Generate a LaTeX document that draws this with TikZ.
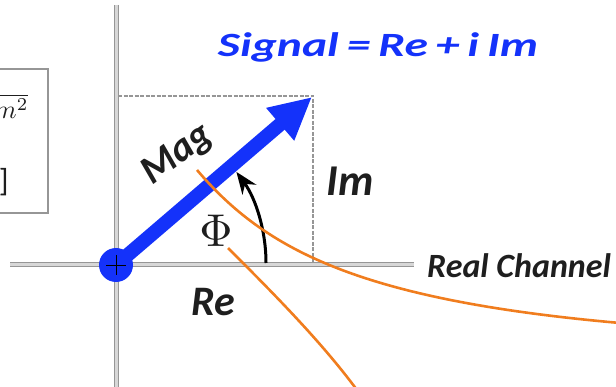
\documentclass[tikz,border=0pt]{standalone}
\usepackage{fontspec}
\setmainfont{Carlito}
\usetikzlibrary{arrows.meta}
\definecolor{sigblue}{RGB}{20,50,250}
\definecolor{orng}{RGB}{240,125,30}
\definecolor{axfill}{RGB}{215,215,215}
\definecolor{axline}{RGB}{150,150,150}
\definecolor{txtgray}{RGB}{30,30,30}
\tikzset{
  axis/.style={draw=axline, line width=1pt, double=axfill, double distance=3pt},
  guide/.style={draw=axline, line width=1.5pt, dash pattern=on 4pt off 1.5pt},
  lbl/.style={font=\bfseries\itshape\fontsize{42}{48}\selectfont, text=txtgray, inner sep=0pt},
  annot/.style={draw=orng, line width=2.6pt},
}
\begin{document}
\begin{tikzpicture}[x=1pt,y=-1pt]
\useasboundingbox (0,0) rectangle (616,387);
\clip (0,0) rectangle (616,387);
% left formula box (cropped)
\draw[draw=axline, line width=1.2pt] (-5,69) rectangle (48,213);
\node[anchor=east, inner sep=0pt, text=txtgray, scale=2.6] (mag2) at (29,106) {$\overline{m^{2}}$};
\node[anchor=east, inner sep=0pt, text=txtgray, font=\fontsize{32}{36}\selectfont] (brk) at (9,182) {]};
% axes
\coordinate (ytop) at (116,5);
\coordinate (ybot) at (116,390);
\coordinate (xl) at (10,265);
\coordinate (xr) at (414,265);
\draw[axis] (ytop) -- (ybot);
\draw[axis] (xl) -- (xr);
% guides
\coordinate (o) at (116,265);
\coordinate (tl) at (118,96);
\coordinate (tr) at (313,96);
\coordinate (br) at (313,262);
\draw[guide] (tl) -- (tr) -- (br);
% vector
\fill[sigblue] (o) circle (17);
\draw[sigblue, line width=14pt, -{Triangle[length=42pt,width=40pt]}] (o) -- (312,97);
\draw[black, line width=0.8pt] (116,255) -- (116,275) (106,265) -- (126,265);
% angle arc
\draw[black, line width=3pt, -{Stealth[length=22pt,width=17pt]}] (266,263) arc[start angle=0, end angle=-36, radius=155];
% labels
\node[font=\bfseries\itshape\fontsize{34}{40}\selectfont, text=sigblue, inner sep=0pt, xscale=1.4] (sig) at (378,47) {Signal\,=\,Re\,+\,\textit{i}\,Im};
\node[lbl, font=\bfseries\itshape\fontsize{40}{46}\selectfont, rotate=37] (magl) at (178,155) {Mag};
\node[inner sep=0pt, text=txtgray, scale=4.6] (phi) at (216,231) {$\Phi$};
\node[lbl, font=\bfseries\itshape\fontsize{44}{50}\selectfont] (iml) at (350,181) {Im};
\node[lbl] (rel) at (213,302) {Re};
\node[lbl, anchor=west, font=\bfseries\itshape\fontsize{34}{40}\selectfont] (rc) at (427,266) {Real Channel};
% orange annotation lines
\coordinate (a1) at (197,170);
\coordinate (a2) at (620,323);
\coordinate (b1) at (228,248);
\coordinate (b2) at (357,390);
\draw[annot] (a1) .. controls (265,250) and (360,300) .. (a2);
\draw[annot] (b1) .. controls (270,290) and (320,340) .. (b2);
\end{tikzpicture}
\end{document}
